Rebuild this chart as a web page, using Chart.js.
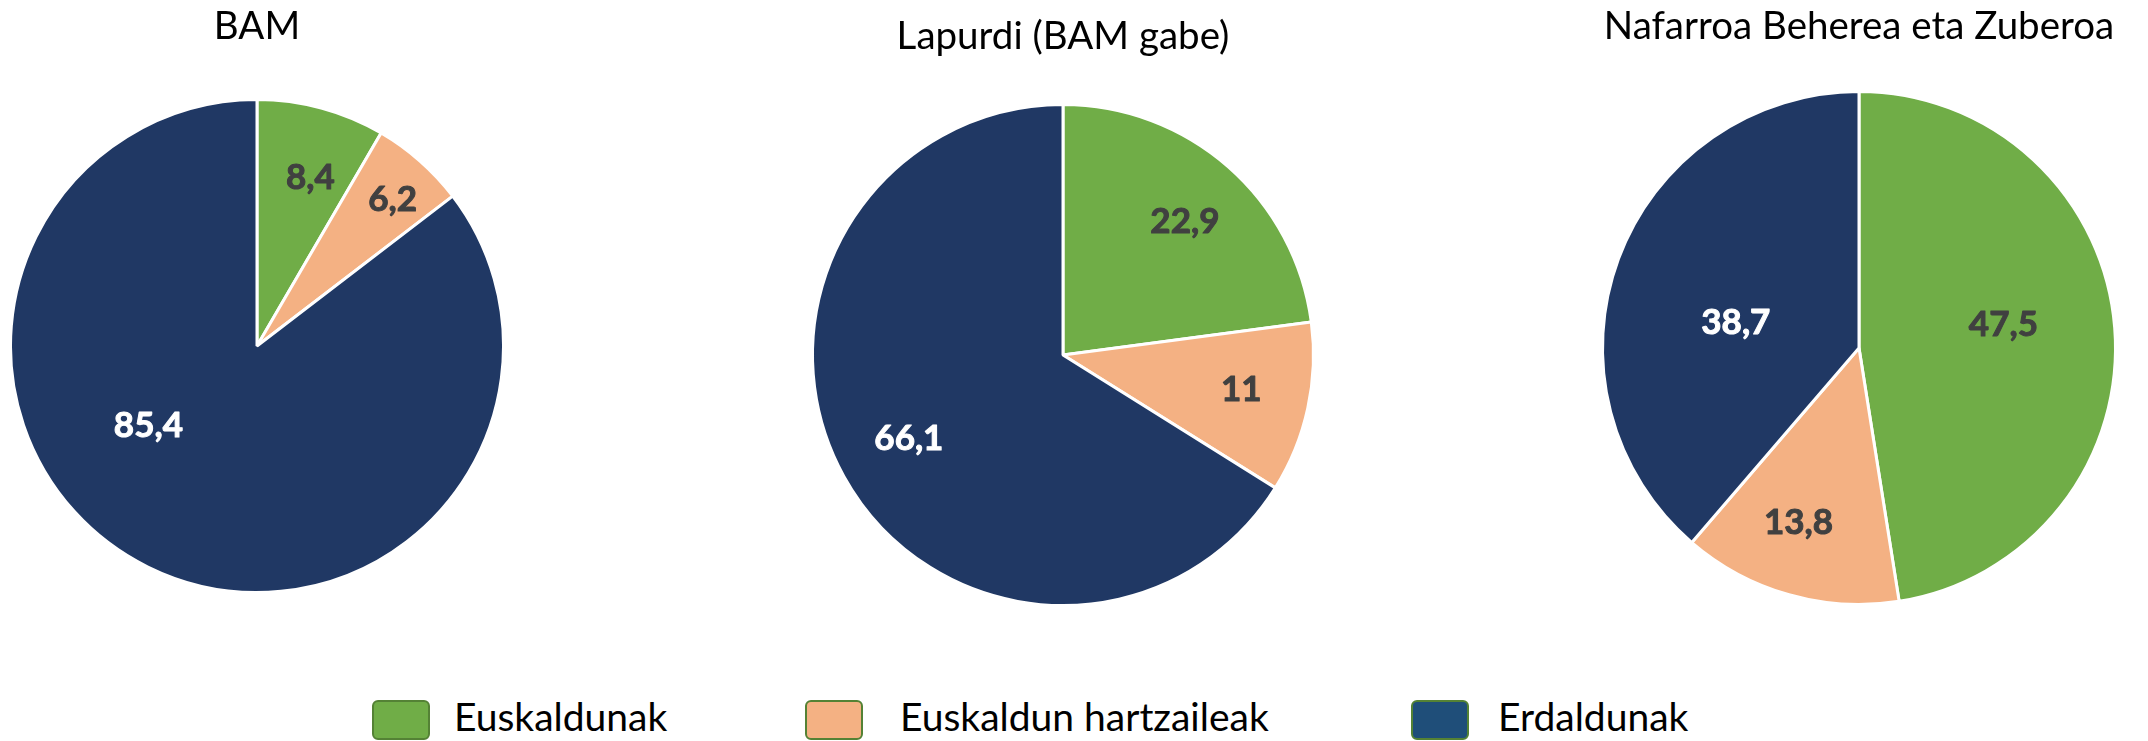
<!DOCTYPE html>
<html>
<head>
<meta charset="utf-8">
<title>Euskaldunak</title>
<script src="https://cdn.jsdelivr.net/npm/chart.js@4.4.1/dist/chart.umd.min.js"></script>
<style>
  html, body { margin: 0; padding: 0; background: #fff; }
  body { width: 2148px; height: 741px; position: relative; overflow: hidden; font-family: Lato, "Open Sans", sans-serif; }
  canvas { position: absolute; top: 0; }
  .legend-box { position: absolute; top: 700px; width: 58px; height: 40px; box-sizing: border-box;
                border: 2px solid #548235; border-radius: 6px; }
  .legend-text { position: absolute; top: 697px; font-size: 39px; line-height: 1; color: #000; white-space: nowrap; }
</style>
</head>
<body>
<canvas id="pieBam" width="500" height="680"></canvas>
<canvas id="pieLapurdi" width="580" height="680"></canvas>
<canvas id="pieNbz" width="570" height="680"></canvas>
<div id="legend"></div>

<script>
// =========================
// Data
// =========================
const categories = ['Euskaldunak', 'Euskaldun hartzaileak', 'Erdaldunak'];
const regions = ['BAM', 'Lapurdi (BAM gabe)', 'Nafarroa Beherea eta Zuberoa'];
const bamValues = [8.4, 6.2, 85.4];
const lapurdiValues = [22.9, 11, 66.1];
const nbzValues = [47.5, 13.8, 38.7];

// =========================
// Styles
// =========================
const sliceColors = ['#70AD47', '#F4B183', '#203864'];
const legendColors = ['#70AD47', '#F4B183', '#1F4E79'];
const labelColors = ['#404040', '#404040', '#ffffff'];
const titleSize = 38.5;

// format 8.4 -> "8,4"
function fmt(v) {
    return String(v).replace('.', ',');
}

// Draw value labels inside the slices
const sliceLabels = {
    id: 'sliceLabels',
    afterDatasetsDraw(chart, args, opts) {
        const ctx = chart.ctx;
        const meta = chart.getDatasetMeta(0);
        const values = chart.data.datasets[0].data;
        ctx.save();
        ctx.font = 'bold 35px Lato';
        ctx.textAlign = 'center';
        ctx.textBaseline = 'middle';
        ctx.lineWidth = 1;
        ctx.lineJoin = 'round';
        meta.data.forEach((arc, i) => {
            const p = arc.getProps(['x', 'y', 'startAngle', 'endAngle', 'outerRadius'], true);
            const [shift, frac] = opts.placement[i];
            const a = (p.startAngle + p.endAngle) / 2 + shift * Math.PI / 180;
            const d = p.outerRadius * frac;
            const tx = p.x + Math.cos(a) * d;
            const ty = p.y + Math.sin(a) * d;
            ctx.fillStyle = labelColors[i];
            ctx.strokeStyle = labelColors[i];
            // a thin stroke makes the bold face a bit heavier
            ctx.strokeText(fmt(values[i]), tx, ty);
            ctx.fillText(fmt(values[i]), tx, ty);
        });
        ctx.restore();
    }
};

// =========================
// Render one pie
// =========================
function renderPie(id, title, values, cx, cy, radius, titleY, placement) {
    const canvas = document.getElementById(id);
    const w = canvas.width, h = canvas.height;
    canvas.style.left = (cx - w / 2) + 'px';

    const lh = titleSize * 1.2;
    const areaTop = titleY + lh / 2;
    const areaBottom = 2 * cy - areaTop;

    return new Chart(canvas, {
        type: 'pie',
        data: {
            labels: categories,
            datasets: [{
                data: values,
                backgroundColor: sliceColors,
                borderColor: '#ffffff',
                borderWidth: 3
            }]
        },
        options: {
            responsive: false,
            animation: false,
            radius: radius,
            layout: { padding: { top: 0, bottom: h - areaBottom, left: 0, right: 0 } },
            plugins: {
                legend: { display: false },
                tooltip: { enabled: false },
                title: {
                    display: true,
                    text: title,
                    color: '#000000',
                    font: { family: 'Lato', size: titleSize, weight: 'normal', lineHeight: 1.2 },
                    padding: { top: titleY - lh / 2, bottom: 0 }
                },
                sliceLabels: { placement: placement }
            }
        },
        plugins: [sliceLabels]
    });
}

// [angle shift in degrees, fraction of radius]
renderPie('pieBam', regions[0], bamValues, 257, 346, 246.5, 27,
    [[2.5, 0.715], [1.4, 0.81], [27.5, 0.546]]);
renderPie('pieLapurdi', regions[1], lapurdiValues, 1063, 355, 250.5, 37,
    [[1.3, 0.72], [-1.3, 0.725], [0.5, 0.70]]);
renderPie('pieNbz', regions[2], nbzValues, 1859, 348, 256.5, 27,
    [[-4.5, 0.57], [3.3, 0.72], [-8.8, 0.49]]);

// =========================
// Legend
// =========================
const legendBoxX = [372, 805, 1411];
const legendTextX = [454, 900, 1498];
const legend = document.getElementById('legend');
categories.forEach((name, i) => {
    const box = document.createElement('div');
    box.className = 'legend-box';
    box.style.left = legendBoxX[i] + 'px';
    box.style.background = legendColors[i];
    legend.appendChild(box);

    const txt = document.createElement('div');
    txt.className = 'legend-text';
    txt.style.left = legendTextX[i] + 'px';
    txt.textContent = name;
    legend.appendChild(txt);
});
</script>
</body>
</html>
